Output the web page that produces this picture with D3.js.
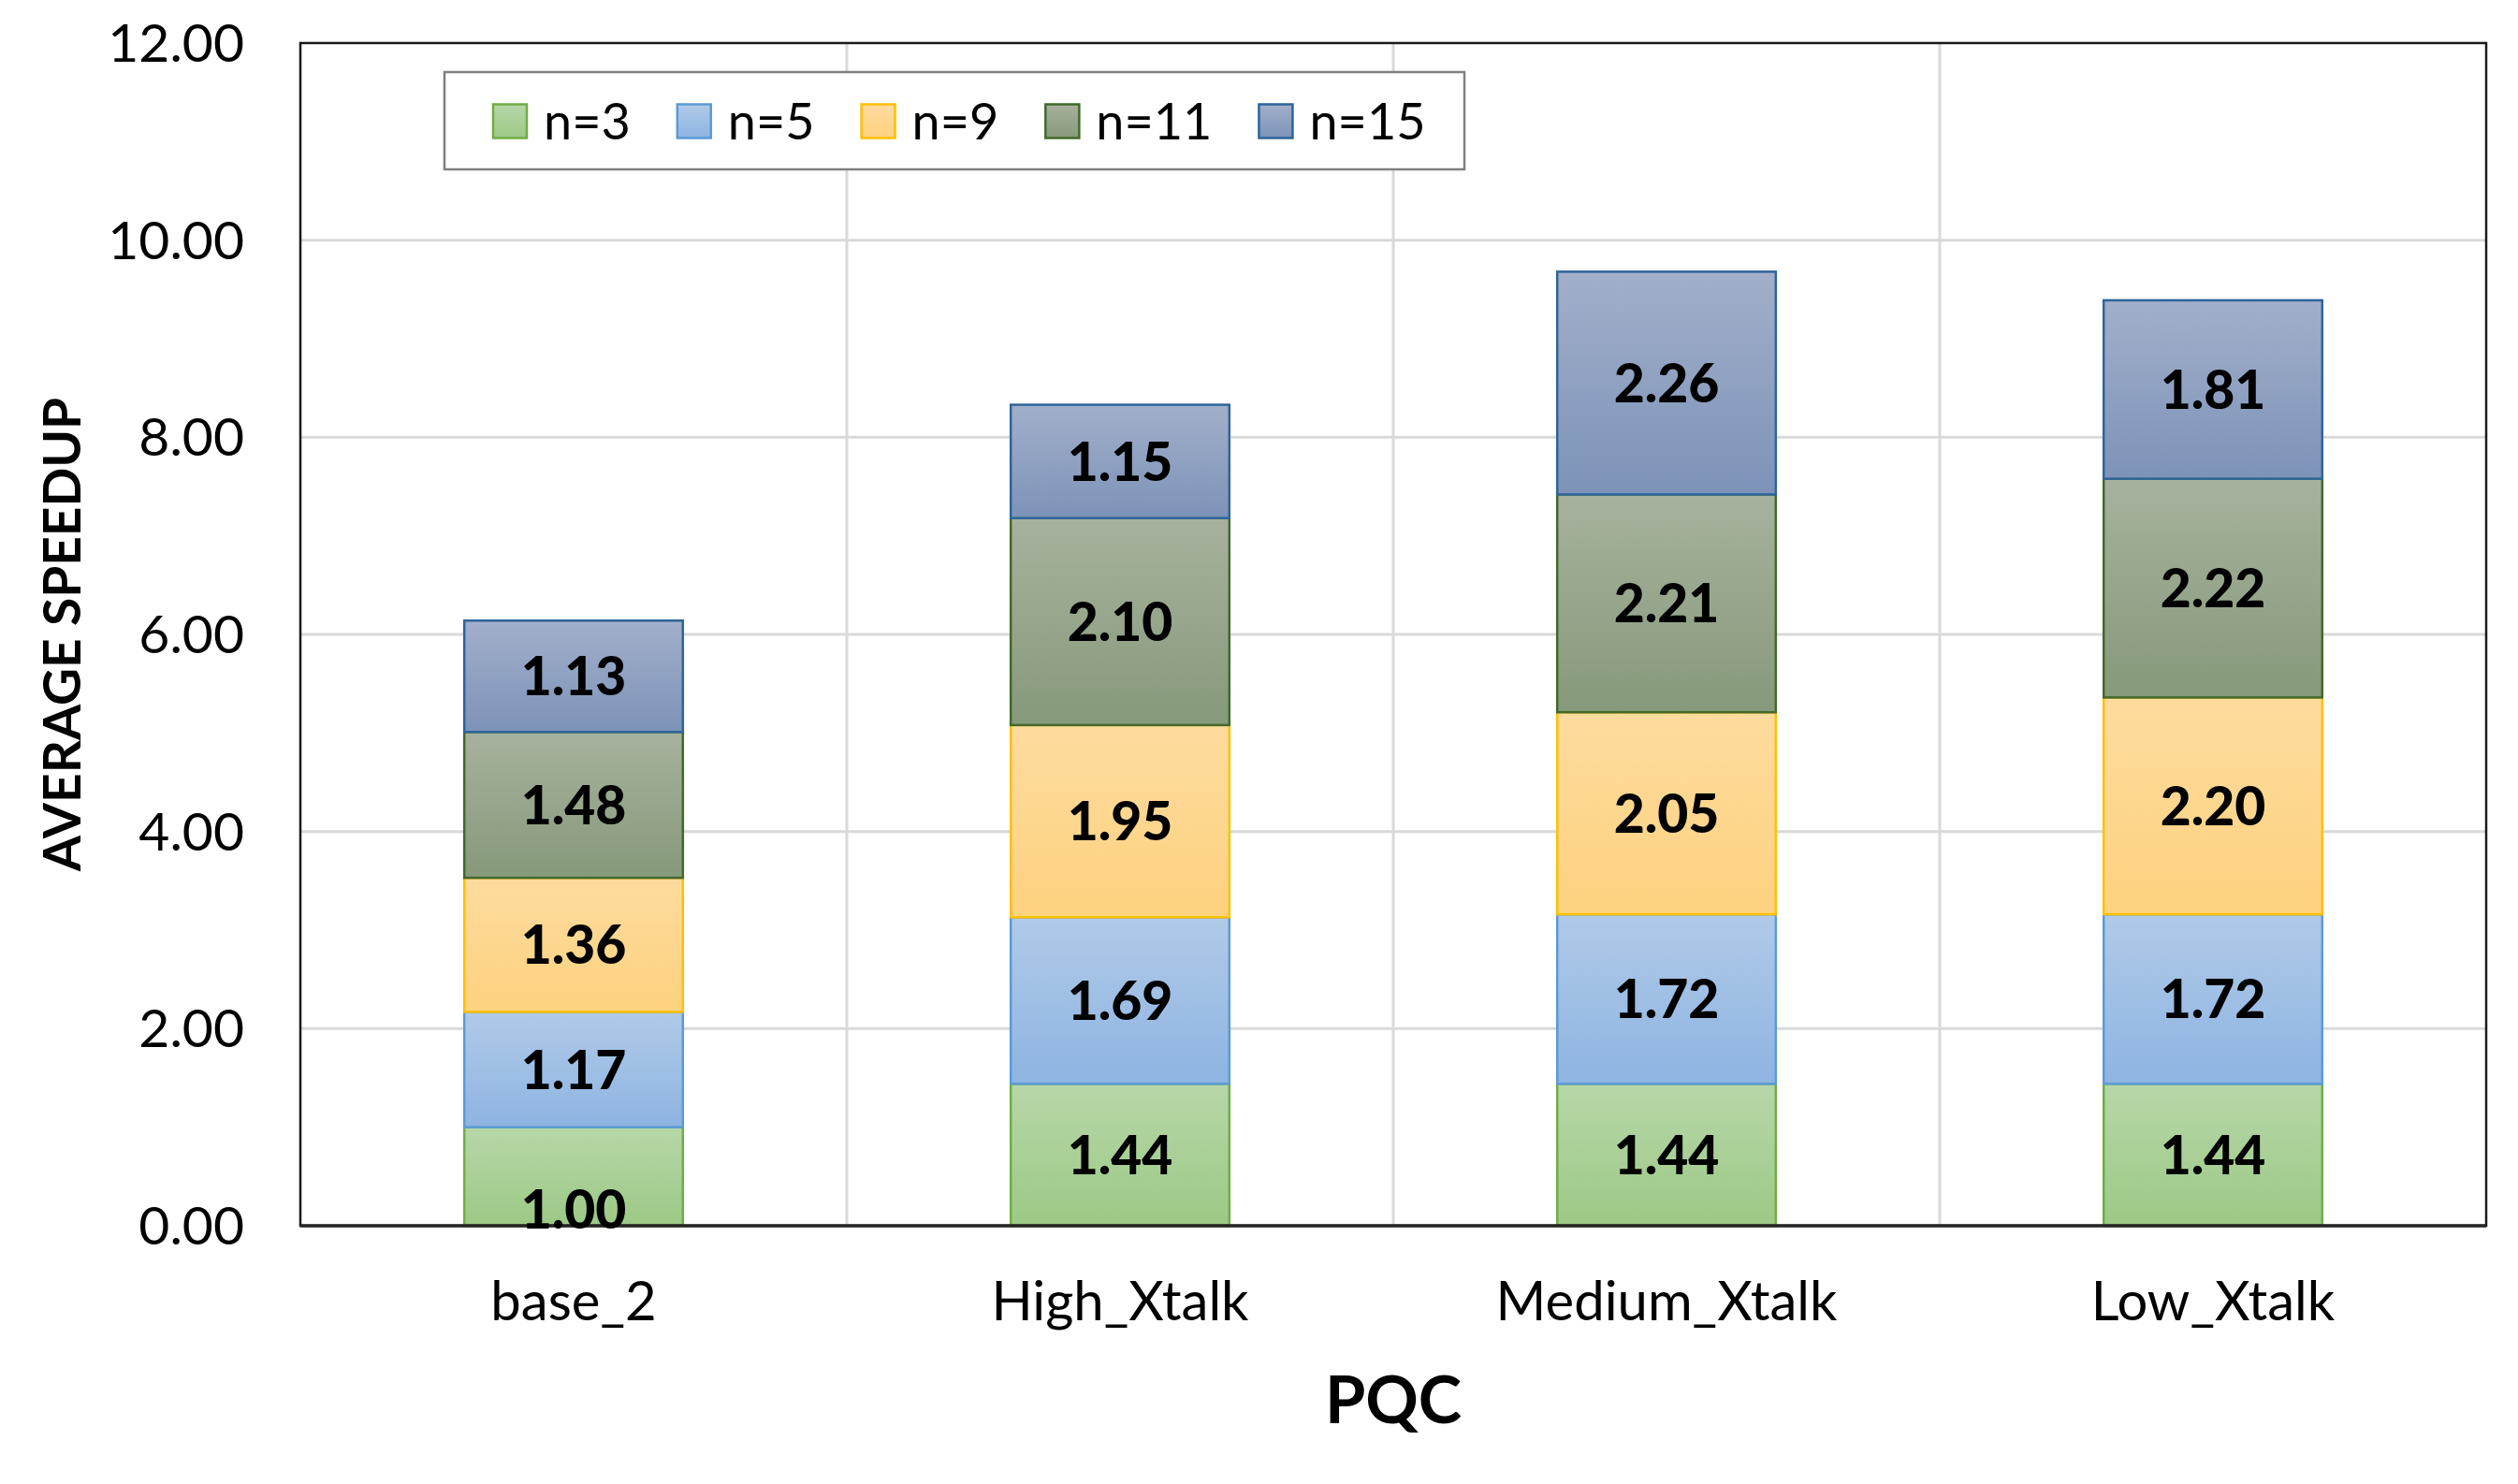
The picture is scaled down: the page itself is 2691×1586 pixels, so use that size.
<!DOCTYPE html>
<html>
<head>
<meta charset="utf-8">
<script src="https://cdn.jsdelivr.net/npm/d3@7"></script>
<style>
  html, body { margin: 0; padding: 0; background: #fff; }
  svg { display: block; }
  text { font-family: Lato, "Open Sans", sans-serif; fill: #000; }
</style>
</head>
<body>
<svg id="chart" width="2691" height="1586"></svg>
<script>
// ---- data ----
const categories = ["base_2", "High_Xtalk", "Medium_Xtalk", "Low_Xtalk"];
const seriesNames = ["n=3", "n=5", "n=9", "n=11", "n=15"];
const n3  = [1.00, 1.44, 1.44, 1.44];
const n5  = [1.17, 1.69, 1.72, 1.72];
const n9  = [1.36, 1.95, 2.05, 2.20];
const n11 = [1.48, 2.10, 2.21, 2.22];
const n15 = [1.13, 1.15, 2.26, 1.81];
const yTicks = [0, 2, 4, 6, 8, 10, 12];
const yAxisTitle = "AVERAGE SPEEDUP";
const xAxisTitle = "PQC";

// ---- styles ----
const seriesValues = [n3, n5, n9, n11, n15];
const gradTop    = ["#b7d7a9", "#b0cae8", "#fedb9e", "#a7b29e", "#a2afca"];
const gradBottom = ["#9cc985", "#8eb4e2", "#fdd27f", "#86997a", "#7d93b8"];
const strokes    = ["#70ad47", "#5b9bd5", "#ffc000", "#43682b", "#2e659a"];

const plot = { left: 321, right: 2657, top: 46, bottom: 1310 };

const svg = d3.select("#chart");
const defs = svg.append("defs");
seriesNames.forEach((s, i) => {
  const g = defs.append("linearGradient").attr("id", "grad" + i)
    .attr("x1", 0).attr("y1", 0).attr("x2", 0).attr("y2", 1);
  g.append("stop").attr("offset", "0%").attr("stop-color", gradTop[i]);
  g.append("stop").attr("offset", "100%").attr("stop-color", gradBottom[i]);
});

const x = d3.scaleBand().domain(categories).range([plot.left, plot.right]).padding(0);
const y = d3.scaleLinear().domain([0, 12]).range([plot.bottom, plot.top]);
const barW = x.bandwidth() * 0.4;

// gridlines
const grid = svg.append("g");
grid.selectAll("line.h").data(yTicks.filter(t => t > 0 && t < 12)).join("line")
  .attr("x1", plot.left).attr("x2", plot.right)
  .attr("y1", d => y(d)).attr("y2", d => y(d))
  .attr("stroke", "#d9d9d9").attr("stroke-width", 3);
grid.selectAll("line.v").data(categories.slice(1)).join("line")
  .attr("x1", d => x(d)).attr("x2", d => x(d))
  .attr("y1", plot.top).attr("y2", plot.bottom)
  .attr("stroke", "#d9d9d9").attr("stroke-width", 3);

// stacked data
const table = categories.map((c, ci) => {
  const o = { cat: c };
  seriesNames.forEach((s, si) => { o[s] = seriesValues[si][ci]; });
  return o;
});
const stacked = d3.stack().keys(seriesNames)(table);

const bars = svg.append("g");
stacked.forEach((layer, si) => {
  bars.append("g").selectAll("rect").data(layer).join("rect")
    .attr("x", d => x(d.data.cat) + (x.bandwidth() - barW) / 2)
    .attr("width", barW)
    .attr("y", d => y(d[1]))
    .attr("height", d => y(d[0]) - y(d[1]))
    .attr("fill", `url(#grad${si})`)
    .attr("stroke", strokes[si])
    .attr("stroke-width", 2.5);
});

// frame
svg.append("rect")
  .attr("x", plot.left).attr("y", plot.top)
  .attr("width", plot.right - plot.left).attr("height", plot.bottom - plot.top)
  .attr("fill", "none").attr("stroke", "#1a1a1a").attr("stroke-width", 2.5);
svg.append("line")
  .attr("x1", plot.left).attr("x2", plot.right)
  .attr("y1", plot.bottom).attr("y2", plot.bottom)
  .attr("stroke", "#262626").attr("stroke-width", 3.5);

// data labels
const labelNudge = { "base_2|n=3": 35 };
const labels = svg.append("g");
stacked.forEach((layer, si) => {
  labels.append("g").selectAll("text").data(layer).join("text")
    .attr("x", d => x(d.data.cat) + x.bandwidth() / 2)
    .attr("y", d => (y(d[0]) + y(d[1])) / 2 + (labelNudge[d.data.cat + "|" + layer.key] || 0))
    .attr("dy", "0.36em")
    .attr("text-anchor", "middle")
    .attr("font-weight", 900)
    .attr("font-size", 57)
    .text(d => (d[1] - d[0]).toFixed(2));
});

// y axis
const yAxis = d3.axisLeft(y).tickValues(yTicks).tickFormat(d3.format(".2f")).tickSize(0).tickPadding(0);
const yg = svg.append("g").attr("transform", `translate(${261},0)`).call(yAxis);
yg.select(".domain").remove();
yg.selectAll("text").attr("font-size", 57).attr("font-family", "Lato, sans-serif").attr("fill", "#000").attr("dy", "0.34em");

// x axis
const xAxis = d3.axisBottom(x).tickSize(0).tickPadding(0);
const xg = svg.append("g").attr("transform", `translate(0,${1369})`).call(xAxis);
xg.select(".domain").remove();
xg.selectAll("text").attr("font-size", 58).attr("font-family", "Lato, sans-serif").attr("fill", "#000").attr("dy", "0.72em");

// axis titles
svg.append("text")
  .attr("transform", `translate(86,678) rotate(-90)`)
  .attr("text-anchor", "middle")
  .attr("font-weight", 700).attr("font-size", 55)
  .text(yAxisTitle);
svg.append("text")
  .attr("x", 1489).attr("y", 1521)
  .attr("text-anchor", "middle")
  .attr("font-weight", 700).attr("font-size", 70)
  .text(xAxisTitle);

// legend
const leg = svg.append("g");
leg.append("rect").attr("x", 475).attr("y", 77).attr("width", 1090).attr("height", 104)
  .attr("fill", "#fff").attr("stroke", "#7f7f7f").attr("stroke-width", 2.5);
let lx = 527;
const ly = 129.5;
seriesNames.forEach((s, i) => {
  leg.append("rect").attr("x", lx).attr("y", ly - 18).attr("width", 36).attr("height", 36)
    .attr("fill", `url(#grad${i})`).attr("stroke", strokes[i]).attr("stroke-width", 2.5);
  const t = leg.append("text").attr("x", lx + 54).attr("y", ly).attr("dy", "0.36em")
    .attr("font-size", 54).text(s);
  const w = t.node().getComputedTextLength();
  lx = lx + 54 + w + 50;
});
</script>
</body>
</html>
